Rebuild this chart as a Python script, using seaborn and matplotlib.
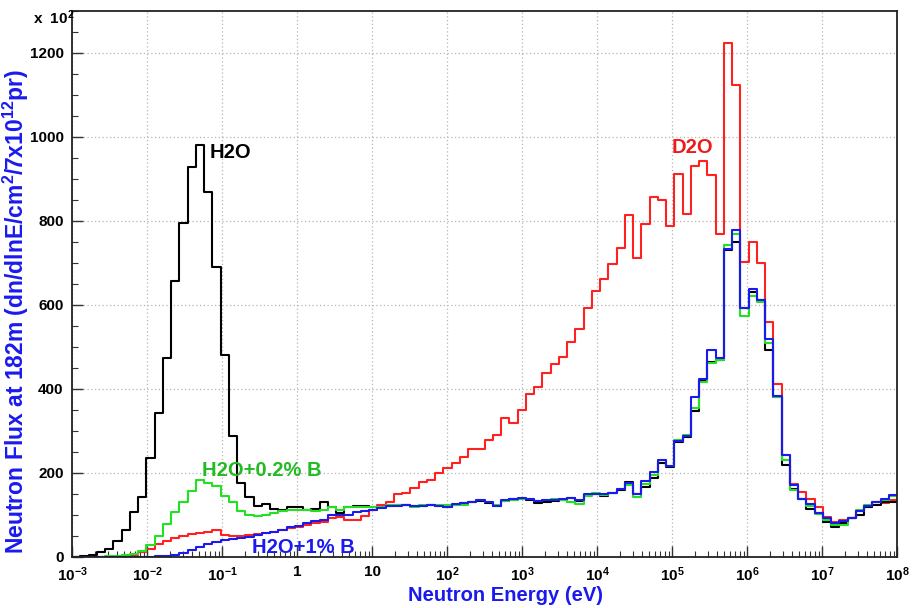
import numpy as np
import pandas as pd
import matplotlib
matplotlib.use("Agg")
import matplotlib.pyplot as plt
import seaborn as sns
from matplotlib.ticker import FixedLocator, LogLocator, MultipleLocator, NullFormatter

# ---- binning: 100 log-uniform bins from 1e-3 to 1e8 eV ----
log_e_min = -3
log_e_max = 8
n_bins = 100

# ---- series values (flux, units of 10^2) ----
h2o = [1, 3, 5, 12, 20, 38, 64, 107, 143, 235,
       342, 475, 657, 795, 928, 981, 869, 691, 481, 289,
       176, 143, 121, 127, 115, 111, 118, 119, 111, 115,
       131, 118, 105, 119, 121, 122, 120, 119, 121, 123,
       124, 122, 121, 125, 122, 120, 125, 129, 131, 134,
       129, 121, 133, 137, 139, 135, 128, 132, 134, 136,
       140, 133, 147, 150, 145, 152, 160, 179, 149, 167,
       187, 223, 214, 274, 285, 347, 420, 465, 469, 731,
       751, 592, 630, 612, 493, 380, 220, 163, 139, 114,
       104, 83, 72, 80, 93, 99, 120, 125, 130, 131]

h2o_b02 = [0, 0, 1, 1, 2, 3, 5, 8, 15, 28,
           50, 78, 106, 132, 158, 183, 176, 170, 145, 132,
           110, 99, 97, 101, 105, 109, 111, 111, 112, 110,
           111, 119, 113, 119, 119, 120, 119, 119, 123, 124,
           123, 119, 123, 123, 123, 123, 125, 123, 131, 135,
           131, 125, 133, 135, 139, 137, 133, 135, 137, 135,
           131, 126, 145, 152, 148, 153, 161, 172, 143, 175,
           195, 230, 216, 279, 290, 354, 417, 462, 469, 743,
           769, 575, 621, 606, 509, 381, 230, 159, 139, 121,
           102, 87, 76, 76, 93, 112, 125, 131, 135, 145]

h2o_b1 = [0, 0, 0, 0, 0, 0, 0, 0, 1, 1,
          2, 3, 5, 10, 16, 24, 32, 36, 40, 44,
          46, 48, 52, 56, 60, 64, 71, 75, 80, 86,
          89, 99, 99, 101, 107, 109, 113, 117, 121, 121,
          123, 121, 121, 125, 122, 119, 126, 129, 131, 135,
          131, 121, 135, 137, 141, 137, 133, 135, 135, 137,
          141, 135, 149, 151, 151, 153, 161, 176, 151, 180,
          203, 230, 216, 277, 288, 380, 425, 492, 473, 734,
          778, 593, 638, 613, 518, 383, 242, 171, 139, 127,
          105, 93, 81, 85, 93, 110, 121, 131, 137, 147]

d2o = [0, 0, 0, 0, 0, 1, 2, 4, 12, 20,
       30, 38, 46, 51, 55, 58, 60, 65, 52, 50,
       50, 52, 54, 57, 60, 65, 68, 72, 76, 80,
       84, 94, 95, 89, 89, 97, 112, 124, 131, 149,
       153, 165, 179, 183, 199, 211, 223, 238, 256, 258,
       278, 290, 330, 319, 351, 389, 404, 439, 459, 477,
       513, 544, 592, 634, 661, 697, 736, 815, 711, 792,
       858, 850, 787, 912, 817, 931, 944, 910, 769, 1225,
       1124, 703, 751, 699, 560, 413, 242, 173, 155, 139,
       118, 95, 83, 87, 93, 110, 119, 131, 129, 135]

x_tick_exps = [-3, -2, -1, 0, 1, 2, 3, 4, 5, 6, 7, 8]
x_tick_labels = [r"$\mathbf{10^{-3}}$", r"$\mathbf{10^{-2}}$", r"$\mathbf{10^{-1}}$",
                 "1", "10", r"$\mathbf{10^{2}}$", r"$\mathbf{10^{3}}$", r"$\mathbf{10^{4}}$",
                 r"$\mathbf{10^{5}}$", r"$\mathbf{10^{6}}$", r"$\mathbf{10^{7}}$", r"$\mathbf{10^{8}}$"]
y_ticks = [0, 200, 400, 600, 800, 1000, 1200]

series = [("D2O", d2o, "#ff2020"),
          ("H2O", h2o, "#000000"),
          ("H2O+0.2% B", h2o_b02, "#22e022"),
          ("H2O+1% B", h2o_b1, "#1a1aee")]

sns.set_style("white")
plt.rcParams['font.family'] = ['Liberation Sans', 'DejaVu Sans']
plt.rcParams['mathtext.fontset'] = 'custom'
plt.rcParams['mathtext.rm'] = 'Liberation Sans'
plt.rcParams['mathtext.bf'] = 'Liberation Sans:bold'
plt.rcParams['mathtext.it'] = 'Liberation Sans:italic'

fig = plt.figure(figsize=(9.13, 6.08), dpi=100)
ax = fig.add_axes([72 / 913, 1 - 557 / 608, 825 / 913, 546 / 608])

edges_log = [float(v) for v in np.linspace(log_e_min, log_e_max, n_bins + 1)]
centers = 10 ** ((np.array(edges_log[:-1]) + np.array(edges_log[1:])) / 2)

for name, vals, col in series:
    df = pd.DataFrame({"energy": centers, "flux": vals})
    sns.histplot(data=df, x="energy", weights="flux", bins=edges_log,
                 log_scale=(True, False), element="step", fill=False,
                 color=col, linewidth=1.5, ax=ax)

ax.set_xlim(10.0 ** log_e_min, 10.0 ** log_e_max)
ax.set_ylim(0, 1300)

ax.xaxis.set_major_locator(FixedLocator([10.0 ** e for e in x_tick_exps]))
ax.set_xticklabels(x_tick_labels)
ax.xaxis.set_minor_locator(LogLocator(base=10, subs=np.arange(2, 10), numticks=50))
ax.xaxis.set_minor_formatter(NullFormatter())
ax.yaxis.set_major_locator(FixedLocator(y_ticks))
ax.set_yticklabels([str(v) for v in y_ticks])
ax.yaxis.set_minor_locator(MultipleLocator(50))

ax.tick_params(which="both", direction="in", top=False, right=False,
               bottom=True, left=True, colors="#333333")
ax.tick_params(which="major", length=8, width=1.0, labelsize=11,
               labelcolor="black")
ax.tick_params(axis="x", which="major", pad=6)
ax.tick_params(axis="y", which="major", pad=6)
ax.tick_params(which="minor", length=4, width=0.8)
for lab in ax.get_xticklabels() + ax.get_yticklabels():
    lab.set_fontweight("bold")

ax.grid(True, which="major", color="#b5b5b5", linestyle=(0, (1, 2)), linewidth=0.9)
ax.set_axisbelow(True)
for s in ax.spines.values():
    s.set_color("#222222")
    s.set_linewidth(1.3)

ax.set_xlabel("Neutron Energy (eV)", color="#1a1aee", fontsize=14.5, fontweight="bold")
ax.xaxis.set_label_coords((506 - 72) / 825, -0.053)
ax.set_ylabel(r"Neutron Flux at 182m (dn/dlnE/cm$^{\mathbf{2}}$/7x10$^{\mathbf{12}}$pr)",
              color="#1a1aee", fontsize=16.5, fontweight="bold")
ax.yaxis.set_label_coords(-0.050, 0.45)

fig.text(33 / 913, 1 - 24 / 608, r"x  10$^{\mathbf{2}}$", fontsize=11,
         fontweight="bold", color="black")

ax.text(0.069, 962, "H2O", color="black", fontsize=14.5, fontweight="bold", va="center")
ax.text(1.0e5, 976, "D2O", color="#ee1a1a", fontsize=14.5, fontweight="bold", va="center")
ax.text(0.054, 207, "H2O+0.2% B", color="#22bb22", fontsize=14.5, fontweight="bold", va="center")
ax.text(0.251, 23, "H2O+1% B", color="#1a1aee", fontsize=14.5, fontweight="bold", va="center")

fig.savefig("out.png", dpi=100)
